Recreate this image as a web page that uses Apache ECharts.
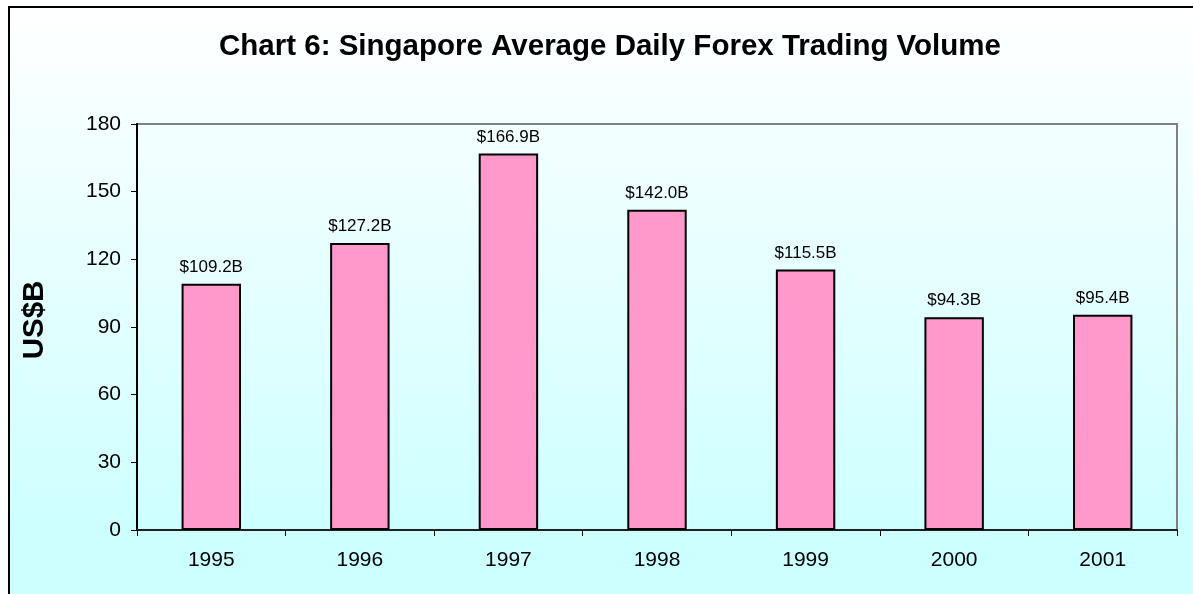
<!DOCTYPE html>
<html>
<head>
<meta charset="utf-8">
<script src="https://cdn.jsdelivr.net/npm/echarts@6/dist/echarts.min.js"></script>
<style>
    html, body {
        margin: 0;
        padding: 0;
        background: #ffffff;
    }
    #main {
        width: 1193px;
        height: 594px;
    }
</style>
</head>
<body>
<div id="main"></div>
<script>
// 数据
var years = ['1995', '1996', '1997', '1998', '1999', '2000', '2001'];
var volumes = [109.2, 127.2, 166.9, 142.0, 115.5, 94.3, 95.4];
var yTicks = [0, 30, 60, 90, 120, 150, 180];

var chartDom = document.getElementById('main');
var myChart = echarts.init(chartDom);
var option;

var font = 'Arial, "Liberation Sans", sans-serif';

option = {
    backgroundColor: '#ffffff',
    textStyle: { fontFamily: font },
    graphic: [
        {
            type: 'rect',
            z: -10,
            silent: true,
            shape: { x: 9, y: 7, width: 1200, height: 600 },
            style: {
                fill: new echarts.graphic.LinearGradient(0, 0, 0, 1, [
                    { offset: 0, color: '#ffffff' },
                    { offset: 0.9, color: '#ccffff' },
                    { offset: 1, color: '#ccffff' }
                ]),
                stroke: '#000000',
                lineWidth: 2
            }
        }
    ],
    title: {
        text: 'Chart 6: Singapore Average Daily Forex Trading Volume',
        left: 605,
        textAlign: 'center',
        top: 27,
        textStyle: {
            fontFamily: font,
            fontSize: 29.5,
            fontWeight: 'bold',
            color: '#000000'
        }
    },
    grid: {
        left: 137,
        right: 16,
        top: 124,
        bottom: 64,
        show: true,
        borderColor: '#808080',
        borderWidth: 2,
        backgroundColor: 'transparent'
    },
    xAxis: {
        type: 'category',
        data: years,
        axisLine: { lineStyle: { color: '#000000', width: 1.5 } },
        axisTick: { show: true, length: 6, alignWithLabel: false, lineStyle: { color: '#000000' } },
        axisLabel: { color: '#000000', fontSize: 21, margin: 20, fontFamily: font },
        splitLine: { show: false }
    },
    yAxis: {
        type: 'value',
        min: yTicks[0],
        max: yTicks[yTicks.length - 1],
        interval: 30,
        name: 'US$B',
        nameLocation: 'middle',
        nameRotate: 90,
        nameGap: 87,
        nameTextStyle: {
            fontSize: 29.5,
            fontWeight: 'bold',
            color: '#000000',
            fontFamily: font,
            padding: [0, 0, 0, 14]
        },
        axisLine: { show: true, lineStyle: { color: '#000000', width: 2 } },
        axisTick: { show: true, length: 6, lineStyle: { color: '#000000' } },
        axisLabel: { color: '#000000', fontSize: 21, margin: 16, fontFamily: font },
        splitLine: { show: false }
    },
    series: [
        {
            type: 'bar',
            data: volumes,
            barWidth: '40%',
            itemStyle: {
                color: '#ff99cc',
                borderColor: '#000000',
                borderWidth: 2
            },
            label: {
                show: true,
                position: 'top',
                distance: 8,
                fontSize: 17,
                color: '#000000',
                fontFamily: font,
                formatter: function (p) {
                    return '$' + p.value.toFixed(1) + 'B';
                }
            }
        }
    ]
};

option && myChart.setOption(option);
</script>
</body>
</html>
